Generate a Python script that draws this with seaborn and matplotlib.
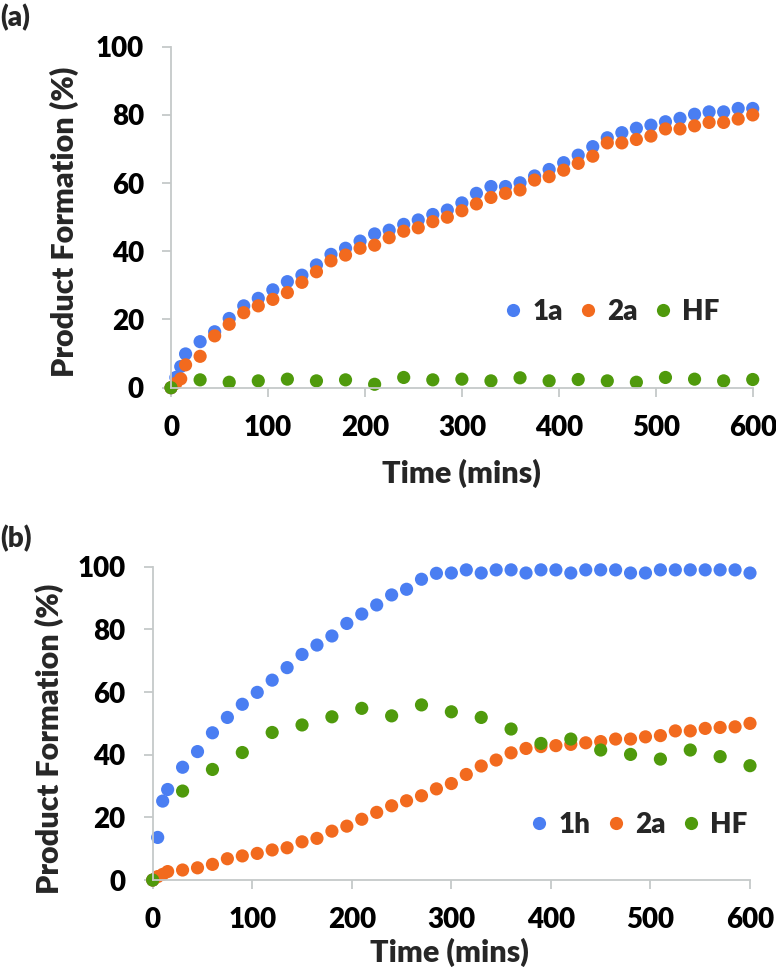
import numpy as np
import seaborn as sns
import matplotlib.pyplot as plt
import pandas as pd

sns.set_theme(style='ticks')
plt.rcParams['font.family'] = ['Lato', 'DejaVu Sans']
plt.rcParams['font.weight'] = 'heavy'

# panel (a): 1a / 2a sampled at 0, 5, 10 then every 15 min; HF every 30 min
time_a = [0, 5, 10] + list(range(15, 601, 15))
yield_1a = [0, 3.0, 6.2, 9.9, 13.5, 16.4, 20.3, 24.0, 26.2, 28.7, 31.1, 33.0, 36.0, 39.1,
            40.9, 43.0, 45.1, 46.2, 47.9, 49.2, 50.8, 52.1, 54.2, 57.0, 59.0, 59.0, 60.1,
            62.1, 64.0, 66.0, 68.2, 70.7, 73.3, 74.8, 76.1, 77.0, 78.0, 79.0, 80.2, 80.9,
            80.9, 81.9, 81.9]
yield_2a_a = [0, 1.3, 2.6, 6.7, 9.2, 15.2, 18.6, 22.0, 24.0, 25.9, 27.9, 30.9, 34.0, 37.2,
              38.9, 40.9, 41.8, 44.0, 45.9, 46.9, 48.7, 50.0, 51.9, 53.9, 55.8, 57.0, 58.0,
              60.9, 61.9, 63.8, 65.8, 67.9, 71.8, 71.8, 72.8, 73.8, 75.9, 75.9, 76.8, 77.8,
              77.8, 78.8, 80.0]
time_hf = list(range(0, 601, 30))
hf_a = [0, 2.3, 1.6, 2.0, 2.5, 2.0, 2.3, 1.0, 3.0, 2.3, 2.5, 2.0, 2.9, 2.0, 2.4, 2.0,
        1.6, 3.0, 2.5, 2.0, 2.4]

# panel (b)
time_b = [0, 5, 10] + list(range(15, 601, 15))
yield_1h = [0, 13.6, 25.2, 28.9, 36.0, 41.0, 47.0, 51.9, 56.1, 59.9, 63.8, 67.8, 72.0, 75.0,
            77.9, 81.9, 84.9, 87.8, 91.0, 92.8, 96.0, 97.9, 98, 99, 98, 99, 99, 98, 99, 99,
            98, 99, 99, 99, 98, 98, 99, 99, 99, 99, 99, 99, 98]
yield_2a_b = [0, 1.1, 1.8, 2.7, 3.2, 3.9, 5.0, 6.8, 7.7, 8.5, 9.6, 10.3, 12.2, 13.3, 15.6,
              17.2, 19.4, 21.6, 23.7, 25.3, 26.9, 29.1, 30.8, 33.7, 36.4, 38.3, 40.6, 42.0,
              42.6, 42.9, 43.3, 43.8, 44.2, 45.0, 45.0, 45.7, 46.1, 47.6, 47.6, 48.4, 48.7,
              48.9, 50.0]
hf_b = [0, 28.4, 35.3, 40.7, 47.1, 49.5, 52.1, 54.8, 52.4, 55.9, 53.7, 51.9, 48.2, 43.6,
        45.0, 41.5, 40.1, 38.6, 41.5, 39.4, 36.5]

BLUE, ORANGE, GREEN = '#4a7ef2', '#f26a1e', '#4f9a0c'
GRID = '#c5c9c9'
W = 'heavy'


def long_df(series):
    frames = []
    for name, t, v in series:
        frames.append(pd.DataFrame({'time': t, 'value': v, 'species': name}))
    return pd.concat(frames, ignore_index=True)


def draw(ax, df, palette, leg_xy):
    sns.scatterplot(data=df, x='time', y='value', hue='species', palette=palette,
                    s=90, linewidth=0, alpha=1, ax=ax, clip_on=False)
    ax.set_xlim(0, 600)
    ax.set_ylim(0, 100)
    ax.set_xticks(range(0, 601, 100))
    ax.set_yticks(range(0, 101, 20))
    sns.despine(ax=ax)
    for sp in ['left', 'bottom']:
        ax.spines[sp].set_color(GRID)
        ax.spines[sp].set_linewidth(1.3)
    ax.tick_params(axis='both', colors=GRID, labelcolor='black', length=6.5, width=1.3,
                   labelsize=20)
    ax.tick_params(axis='x', pad=13)
    ax.tick_params(axis='y', pad=13)
    for lab in ax.get_xticklabels() + ax.get_yticklabels():
        lab.set_fontweight(W)
    ax.set_xlabel('Time (mins)', fontsize=22, fontweight=W)
    ax.set_ylabel('Product Formation (%)', fontsize=22, fontweight=W)
    sns.move_legend(ax, 'center', bbox_to_anchor=leg_xy, ncol=3, frameon=False, title=None,
                    fontsize=20, handlelength=0.8, handletextpad=0.3, columnspacing=0.5)
    for t in ax.get_legend().get_texts():
        t.set_fontweight(W)


fig = plt.figure(figsize=(7.76, 9.8), dpi=100)

ax1 = fig.add_axes([0.2204, 0.6044, 0.7496, 0.3479])
df_a = long_df([('1a', time_a, yield_1a), ('2a', time_a, yield_2a_a), ('HF', time_hf, hf_a)])
draw(ax1, df_a, {'1a': BLUE, '2a': ORANGE, 'HF': GREEN}, (0.756, 0.223))
ax1.yaxis.set_label_coords(-0.158, 0.487)
ax1.xaxis.set_label_coords(0.5, -0.21)

ax2 = fig.add_axes([0.1968, 0.1020, 0.7697, 0.3197])
df_b = long_df([('1h', time_b, yield_1h), ('2a', time_b, yield_2a_b), ('HF', time_hf, hf_b)])
draw(ax2, df_b, {'1h': BLUE, '2a': ORANGE, 'HF': GREEN}, (0.812, 0.1755))
ax2.yaxis.set_label_coords(-0.148, 0.45)
ax2.xaxis.set_label_coords(0.496, -0.185)

fig.text(0.0, 0.9816, '(a)', fontsize=20, fontweight=W, va='center', ha='left')
fig.text(0.0, 0.45, '(b)', fontsize=20, fontweight=W, va='center', ha='left')

fig.savefig('out.png', dpi=100, facecolor='white')
